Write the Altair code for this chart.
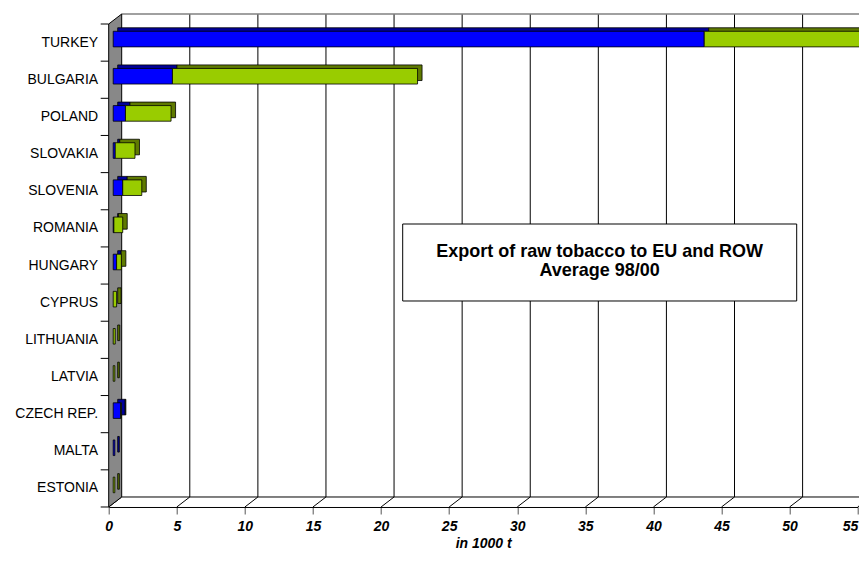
import altair as alt
import pandas as pd

# ---------------- data ----------------
countries = ["TURKEY", "BULGARIA", "POLAND", "SLOVAKIA", "SLOVENIA", "ROMANIA", "HUNGARY",
             "CYPRUS", "LITHUANIA", "LATVIA", "CZECH REP.", "MALTA", "ESTONIA"]
eu_values = [43.4, 4.35, 0.9, 0.15, 0.7, 0.05, 0.25, 0.0, 0.0, 0.0, 0.55, 0.12, 0.0]
row_values = [11.5, 18.0, 3.35, 1.45, 1.4, 0.65, 0.35, 0.25, 0.15, 0.12, 0.05, 0.0, 0.12]
series = ["EU", "ROW"]
x_ticks = [0, 5, 10, 15, 20, 25, 30, 35, 40, 45, 50, 55]
box_lines = ["Export of raw tobacco to EU and ROW", "Average 98/00"]
x_title = "in 1000 t"

# ---------------- layout constants (pixels) ----------------
W, H = 749, 483
DX, DY = 13, -10          # offset of the back wall (3D depth)
BX, BY = 4.5, -3.5        # bar front face offset
STEP = H / len(countries)
FONT = "Liberation Sans"

recs = []
for c, e, r in zip(countries, eu_values, row_values):
    for s, v, o in ((series[0], e, 0), (series[1], r, 1)):
        if v > 0:
            recs.append({"country": c, "series": s, "value": v, "order": o})
df = pd.DataFrame(recs)
tick_df = pd.DataFrame({"t": x_ticks})
cat_df = pd.DataFrame({"country": countries})
one = pd.DataFrame({"a": [0]})

xscale = alt.Scale(domain=[0, 55], nice=False, zero=True)
yscale = alt.Scale(domain=countries, paddingInner=0.58, paddingOuter=0.29)

x_axis = alt.Axis(values=x_ticks, format="d", title=x_title, grid=False, labelFlush=False,
                  labelAlign={"expr": "datum.value >= 55 ? 'right' : 'center'"},
                  domainColor="black", tickColor="#555555", tickSize=7,
                  labelPadding=6, labelFont=FONT, labelFontSize=14,
                  labelFontWeight="bold", labelFontStyle="italic", labelColor="black",
                  titleFont=FONT, titleFontSize=14, titleFontWeight="bold",
                  titleFontStyle="italic", titleColor="black", titlePadding=3)
y_axis = alt.Axis(title=None, ticks=False, domain=False, grid=False, labelPadding=11,
                  labelFont=FONT, labelFontSize=14, labelColor="black")

# left wall (gray parallelogram) as a custom symbol
S = H - DY  # 493
half = S / 2
cx, cy = DX / 2, (DY + H) / 2
def nx(x): return (x - cx) / half
def ny(y): return (y - cy) / half
wall_path = "M{:.5f},{:.5f}L{:.5f},{:.5f}L{:.5f},{:.5f}L{:.5f},{:.5f}Z".format(
    nx(0), ny(0), nx(DX), ny(DY), nx(DX), ny(H + DY), nx(0), ny(H))
wall = alt.Chart(one).mark_point(shape=wall_path, size=S * S, filled=True, fill="#888888",
                                 stroke="black", strokeWidth=1, opacity=1).encode(
    x=alt.value(cx), y=alt.value(cy))

# back grid lines
grid = alt.Chart(tick_df).transform_filter("datum.t > 0").mark_rule(
    color="black", strokeWidth=1, xOffset=DX).encode(
    x=alt.X("t:Q", scale=xscale, axis=x_axis), y=alt.value(DY), y2=alt.value(H + DY))

# floor diagonals
floor = alt.Chart(tick_df).mark_rule(color="black", strokeWidth=1, x2Offset=DX).encode(
    x=alt.X("t:Q", scale=xscale, axis=x_axis), x2="t:Q",
    y=alt.value(H), y2=alt.value(H + DY))

top_line = alt.Chart(one).mark_rule(color="#808080", strokeWidth=1.5).encode(
    x=alt.value(DX), x2=alt.value(W + DX), y=alt.value(DY))
back_bottom = alt.Chart(one).mark_rule(color="black", strokeWidth=1).encode(
    x=alt.value(DX), x2=alt.value(W + DX), y=alt.value(H + DY))

# y ticks at band boundaries
yticks = alt.Chart(cat_df).mark_rule(color="black", strokeWidth=1, yOffset=-STEP / 2).encode(
    y=alt.Y("country:N", scale=yscale, axis=y_axis), x=alt.value(-8), x2=alt.value(0))
ytick_last = alt.Chart(one).mark_rule(color="black", strokeWidth=1).encode(
    x=alt.value(-8), x2=alt.value(0), y=alt.value(H))

# bars: depth copy and front face
bars_back = alt.Chart(df).mark_bar(
    xOffset=2 * BX, x2Offset=2 * BX, yOffset=2 * BY, y2Offset=2 * BY,
    stroke="black", strokeWidth=0.8).encode(
    x=alt.X("value:Q", stack="zero", scale=xscale, axis=x_axis),
    y=alt.Y("country:N", scale=yscale, axis=y_axis),
    color=alt.Color("series:N", scale=alt.Scale(domain=series, range=["#000099", "#5f7a00"]), legend=None),
    order=alt.Order("order:Q"))

bars_front = alt.Chart(df).mark_bar(
    xOffset=BX, x2Offset=BX, yOffset=BY, y2Offset=BY,
    stroke="black", strokeWidth=0.8).encode(
    x=alt.X("value:Q", stack="zero", scale=xscale, axis=x_axis),
    y=alt.Y("country:N", scale=yscale, axis=y_axis),
    color=alt.Color("series:N", scale=alt.Scale(domain=series, range=["#0000ff", "#99cc00"]), legend=None),
    order=alt.Order("order:Q"))

# annotation box
box = alt.Chart(one).mark_rect(fill="white", stroke="black", strokeWidth=1).encode(
    x=alt.value(294), x2=alt.value(688), y=alt.value(200), y2=alt.value(277))
txt1 = alt.Chart(one).mark_text(font=FONT, fontSize=18, fontWeight="bold", color="black",
                                align="center", baseline="middle").encode(
    x=alt.value(491), y=alt.value(228), text=alt.value(box_lines[0]))
txt2 = alt.Chart(one).mark_text(font=FONT, fontSize=18, fontWeight="bold", color="black",
                                align="center", baseline="middle").encode(
    x=alt.value(491), y=alt.value(247), text=alt.value(box_lines[1]))

chart = alt.layer(
    grid, top_line, back_bottom, floor, wall, yticks, ytick_last,
    bars_back, bars_front, box, txt1, txt2
).resolve_scale(color="independent").properties(
    width=W, height=H,
    autosize=alt.AutoSizeParams(type="none"),
    padding={"left": 100.7, "top": 16, "right": 1, "bottom": 46},
    background="white",
).configure_view(stroke=None)

chart.save("out.html", embed_options={"renderer": "svg", "actions": False})
